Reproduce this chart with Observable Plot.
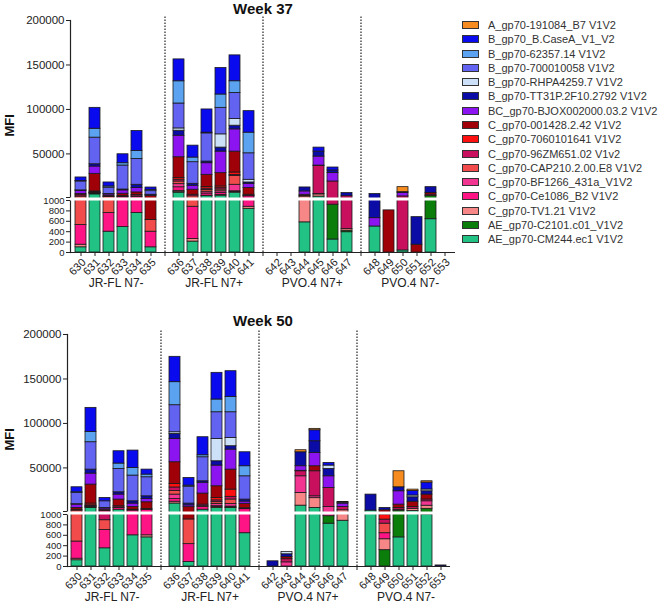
<!DOCTYPE html>
<html><head><meta charset="utf-8">
<script src="https://cdn.jsdelivr.net/npm/d3@7"></script>
<script src="https://cdn.jsdelivr.net/npm/@observablehq/plot@0.6"></script>
<style>
body{margin:0;background:#fff;font-family:"Liberation Sans",Arial,sans-serif;}
#wrap{position:relative;width:660px;height:611px;overflow:hidden;}
.panel{position:absolute;left:0;}
.title{position:absolute;font-weight:bold;font-size:15px;line-height:17px;color:#111;transform:translateX(-50%);white-space:nowrap;}
#legend{position:absolute;left:462px;top:18px;font-size:11px;color:#333;}
.row{height:14.27px;display:flex;align-items:center;white-space:nowrap;}
.sw{width:15px;height:6px;border:1px solid #333;margin-right:9px;flex:none;}
</style></head><body>
<div id="wrap"></div>
<script>
// ---------- data ----------
const animals = ["630","631","632","633","634","635","636","637","638","639","640","641",
                 "642","643","644","645","646","647","648","649","650","651","652","653"];
const groupNames = ["JR-FL N7-","JR-FL N7+","PVO.4 N7+","PVO.4 N7-"];
const groupSizes = [6,6,6,6];
// legend order (top -> bottom); stacking goes bottom -> top, i.e. reversed
const antigens = ["A_gp70-191084_B7 V1V2","B_gp70_B.CaseA_V1_V2","B_gp70-62357.14 V1V2","B_gp70-700010058 V1V2",
  "B_gp70-RHPA4259.7 V1V2","B_gp70-TT31P.2F10.2792 V1V2","BC_gp70-BJOX002000.03.2 V1V2","C_gp70-001428.2.42 V1V2",
  "C_gp70-7060101641 V1V2","C_gp70-96ZM651.02 V1v2","C_gp70-CAP210.2.00.E8 V1V2","C_gp70-BF1266_431a_V1V2",
  "C_gp70-Ce1086_B2 V1V2","C_gp70-TV1.21 V1V2","AE_gp70-C2101.c01_V1V2","AE_gp70-CM244.ec1 V1V2"];
const colors = ["#F68B1F","#0A0AEE","#5BA3F0","#6363F2","#CCE0F7","#0B0BA5","#8C14F0","#A00008",
  "#FF1010","#C8105E","#F24B4B","#F23590","#FF1485","#F78787","#0B7D0B","#22C184"];

// Week 37 (one value per animal, 630..653)
const w37_A     = [0,0,0,0,0,0,0,0,0,0,0,0,0,0,0,0,0,0,0,0,5600,0,0,0];
const w37_CaseA = [4000,23500,4450,10050,22380,2600,24600,13400,26100,29800,29100,24200,0,0,0,4500,3300,0,0,0,0,0,0,0];
const w37_B623  = [500,10000,1400,2600,8960,1500,25000,5200,800,15000,13100,23200,0,0,0,0,0,0,0,0,0,0,0,0];
const w37_B700  = [10000,29900,7000,26980,29100,4000,28000,24300,31700,29800,29400,29800,0,0,0,0,0,0,0,0,0,0,0,0];
const w37_RHPA  = [0,0,0,0,0,0,2600,0,0,14900,7500,3000,0,0,0,0,0,0,0,0,0,0,0,0];
const w37_TT31  = [500,2600,500,1000,3700,500,5600,2200,1840,4500,4100,1500,0,0,4450,5600,3000,3500,4200,0,1000,530,6500,0];
const w37_BC    = [3500,8200,1500,3730,4870,1000,24200,4500,13060,24200,25000,4800,0,0,3770,10100,9400,0,160,0,3800,0,0,0];
const w37_C001  = [1500,19800,1200,2650,2970,2000,23500,5600,13800,14950,23500,7500,0,0,1500,500,0,0,0,810,0,150,2000,0];
const w37_C706  = [0,1000,0,0,0,0,1770,0,1700,1950,2800,0,0,0,0,0,0,0,0,0,0,0,0,0];
const w37_C96   = [1500,500,300,1000,1500,0,2000,1720,1500,1500,1000,1220,0,0,500,31400,18100,2000,0,0,2200,0,1500,0];
const w37_CAP   = [1500,300,800,300,500,225,3000,1500,2000,2000,10000,500,0,0,0,0,0,0,0,0,0,0,0,0];
const w37_BF    = [0,0,0,0,0,0,3500,0,2000,2000,7300,0,0,0,0,500,0,0,0,0,0,0,0,0];
const w37_Ce    = [380,300,360,800,1000,300,4000,620,2500,2000,1000,1500,0,0,0,0,0,0,0,0,0,0,0,0];
const w37_TV    = [50,200,0,0,0,0,1500,50,500,1000,500,40,0,0,1500,2500,0,30,0,0,0,0,0,0];
const w37_AEC2  = [0,1000,0,0,0,0,500,0,0,0,0,0,0,0,0,0,670,30,0,0,0,0,2000,0];
const w37_CM    = [100,4500,400,490,760,100,6500,210,2500,3000,6500,840,0,0,580,2000,250,390,500,0,40,0,640,0];

// Week 50
const w50_A     = [0,0,0,0,0,0,0,0,0,0,0,0,0,0,2300,1600,0,0,0,0,18000,1500,1500,0];
const w50_CaseA = [5600,27000,3760,13850,19500,5600,28500,8650,20250,30000,28850,15700,0,0,0,12300,2950,0,0,0,0,5100,7750,0];
const w50_B623  = [900,11600,0,6000,8600,3000,25900,1200,2250,14300,17300,11300,0,0,0,0,0,0,0,0,0,0,0,0];
const w50_B700  = [12500,30800,7500,26300,28900,21400,30400,19000,27000,30000,28850,26200,0,0,0,0,0,0,0,0,0,0,0,0];
const w50_RHPA  = [0,0,0,0,0,0,1900,0,0,25100,9350,0,0,46,0,0,3750,850,0,0,0,2000,2000,0];
const w50_TT31  = [500,4500,500,2600,2600,3000,5600,2000,1650,4900,3800,2260,100,55,15700,13100,8300,1000,18000,2600,4500,5000,3750,20];
const w50_BC    = [3750,12350,1500,5600,3800,3700,26200,2000,12200,23200,22500,2500,0,0,5150,15000,13100,3800,0,0,15000,0,0,0];
const w50_C001  = [2000,21350,1600,7500,3000,7500,24400,5000,12400,13150,22500,5000,0,40,500,5650,0,0,0,1400,3750,6000,5500,0];
const w50_C706  = [0,1900,0,0,0,0,4000,0,0,2750,8100,0,0,0,0,0,0,0,0,98,0,0,0,0];
const w50_C96   = [1000,500,500,1400,1000,1300,4000,0,1750,2000,3000,1000,0,60,5650,28150,21500,3720,0,78,2000,2000,2000,0];
const w50_CAP   = [1520,500,190,500,0,0,4000,475,1000,2000,5000,0,0,0,0,0,0,0,0,184,0,0,0,0];
const w50_BF    = [0,500,0,0,0,0,5000,0,0,2500,3000,0,0,80,18700,2100,5033,0,0,0,1000,0,5000,0];
const w50_Ce    = [330,500,350,2000,1500,2000,3000,345,3000,1000,1000,3000,0,0,0,0,0,0,0,116,0,0,0,0];
const w50_TV    = [30,500,0,0,0,40,2000,0,0,1000,500,0,0,0,14300,11000,0,1500,0,210,0,2500,3500,0];
const w50_AEC2  = [0,500,0,0,0,0,0,0,0,0,0,0,0,0,0,0,143,0,0,314,1440,0,3000,0];
const w50_CM    = [120,5000,350,3000,600,560,10000,85,3000,5000,5000,640,0,0,7600,5000,824,880,2000,0,560,1500,1000,0];

const lowerTicks = [0,200,400,600,800,1000];
const upperTicks = [1001,50000,100000,150000,200000];
const breakLow = 1000, breakHigh = 1001;
const yTop = 200000, sepTop = 205000;

const week37 = [w37_A,w37_CaseA,w37_B623,w37_B700,w37_RHPA,w37_TT31,w37_BC,w37_C001,w37_C706,w37_C96,w37_CAP,w37_BF,w37_Ce,w37_TV,w37_AEC2,w37_CM];
const week50 = [w50_A,w50_CaseA,w50_B623,w50_B700,w50_RHPA,w50_TT31,w50_BC,w50_C001,w50_C706,w50_C96,w50_CAP,w50_BF,w50_Ce,w50_TV,w50_AEC2,w50_CM];

// ---------- build ----------
const xDomain = [], separators = [], groupLabels = [];
let k = 0;
groupSizes.forEach((n, g) => {
  const members = animals.slice(k, k + n);
  members.forEach(a => xDomain.push(a));
  groupLabels.push({name: groupNames[g], at: members[Math.floor(n/2) - 1]});
  k += n;
  if (g < groupSizes.length - 1) { const s = "sep" + g; xDomain.push(s); separators.push(s); }
});

const W = 460, H = 296, PI = 0.25, PO = 0.1;
const wrap = document.getElementById("wrap");

function panel(title, series, top, ml, xEnd) {
  const rows = [];
  for (let j = antigens.length - 1; j >= 0; j--) {
    series[j].forEach((v, i) => { if (v > 0) rows.push({animal: animals[i], antigen: antigens[j], value: v}); });
  }
  const step = (xEnd - ml) / (xDomain.length - PI + 2 * PO);
  const plot = Plot.plot({
    width: W, height: H,
    marginLeft: ml, marginRight: W - xEnd, marginTop: 20, marginBottom: H - 252,
    x: {type: "band", domain: xDomain, paddingInner: PI, paddingOuter: PO},
    y: {type: "linear", domain: [0, breakLow, breakHigh, yTop], range: [252, 200, 197, 20]},
    color: {domain: antigens, range: colors},
    style: {fontFamily: "'Liberation Sans', Arial, sans-serif", fontSize: "11px", color: "#222", background: "transparent"},
    marks: [
      Plot.barY(rows, {x: "animal", y: "value", fill: "antigen", stroke: "#1a1a1a", strokeWidth: 0.8}),
      Plot.frame({anchor: "left", stroke: "#222", strokeWidth: 1.2}),
      Plot.ruleY([(breakLow + breakHigh) / 2], {stroke: "white", strokeWidth: 3, strokeLinecap: "square"}),
      Plot.ruleX(separators, {x: d => d, y1: 0, y2: sepTop, stroke: "#222", strokeWidth: 1.2, strokeDasharray: "1.5,1.5"}),
      Plot.ruleY([0], {stroke: "#222", strokeWidth: 1.2}),
      Plot.axisY({ticks: lowerTicks, tickSize: 4, tickPadding: 2, label: null, fontSize: 9.5, tickFormat: d => String(d)}),
      Plot.axisY({ticks: upperTicks, tickSize: 4, tickPadding: 2, label: null, fontSize: 11.5, tickFormat: d => d === breakHigh ? "" : String(d)}),
      Plot.axisX({ticks: xDomain, tickSize: 4, label: null, tickFormat: () => ""}),
      Plot.text(animals, {x: d => d, text: d => d, frameAnchor: "bottom", rotate: () => -45, textAnchor: "end",
                          lineAnchor: "middle", dx: 3, dy: 8, fontSize: 11, fill: "#222"}),
      Plot.text(groupLabels, {x: "at", text: "name", frameAnchor: "bottom", dy: 34, dx: step / 2, fontSize: 12, fill: "#222"}),
      Plot.text(["MFI"], {text: d => d, frameAnchor: "left", rotate: -90, dx: 9 - ml, fontWeight: "bold", fontSize: 13, fill: "#111"})
    ]
  });
  const div = document.createElement("div");
  div.className = "panel";
  div.style.top = top + "px";
  div.appendChild(plot);
  wrap.appendChild(div);
  const t = document.createElement("div");
  t.className = "title";
  t.textContent = title;
  t.style.left = "263px";
  t.style.top = Math.max(0, top - 2) + "px";
  wrap.appendChild(t);
}

panel("Week 37", week37, 0, 70, 455);
panel("Week 50", week50, 314, 67, 450);

// legend
const lg = document.createElement("div");
lg.id = "legend";
antigens.forEach((a, i) => {
  const r = document.createElement("div"); r.className = "row";
  const s = document.createElement("div"); s.className = "sw"; s.style.background = colors[i];
  const t = document.createElement("span"); t.textContent = a;
  r.appendChild(s); r.appendChild(t); lg.appendChild(r);
});
wrap.appendChild(lg);
</script>
</body></html>
